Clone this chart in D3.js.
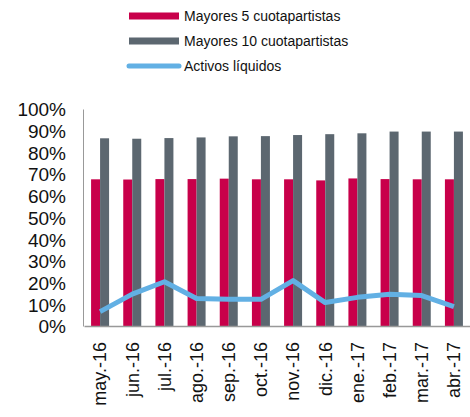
<!DOCTYPE html>
<html>
<head>
<meta charset="utf-8">
<script src="https://cdn.jsdelivr.net/npm/d3@7"></script>
<style>
  body { margin: 0; background: #fff; }
  text { font-family: "Liberation Sans", Arial, sans-serif; fill: #111; }
</style>
</head>
<body>
<div id="chart"></div>
<script>
const months = ["may.-16", "jun.-16", "jul.-16", "ago.-16", "sep.-16", "oct.-16",
                "nov.-16", "dic.-16", "ene.-17", "feb.-17", "mar.-17", "abr.-17"];
const top5 = [67.6, 67.5, 67.7, 67.7, 67.9, 67.6, 67.6, 67.1, 68.0, 67.7, 67.6, 67.6];
const top10 = [86.5, 86.3, 86.6, 86.9, 87.4, 87.5, 88.0, 88.4, 88.8, 89.6, 89.6, 89.6];
const liquidos = [6.6, 14.7, 20.4, 12.7, 12.3, 12.3, 20.9, 10.8, 13.2, 14.6, 14.0, 8.9];
const yTicks = [0, 10, 20, 30, 40, 50, 60, 70, 80, 90, 100];
const seriesNames = ["Mayores 5 cuotapartistas", "Mayores 10 cuotapartistas", "Activos líquidos"];

const w = 470, h = 417;
const plotLeft = 84, plotRight = 470, plotTop = 109, plotBottom = 326;
const red = "#c8004a", gray = "#5c6770", blue = "#62b0e4";

const svg = d3.select("#chart").append("svg")
  .attr("width", w)
  .attr("height", h);

const x = d3.scaleBand().domain(months).range([plotLeft, plotRight]);
const y = d3.scaleLinear().domain([0, 100]).range([plotBottom, plotTop]);

const barW = 9;

// bars
svg.selectAll("rect.top5")
  .data(months)
  .enter()
  .append("rect")
  .attr("class", "top5")
  .attr("x", d => x(d) + x.bandwidth() / 2 - barW)
  .attr("y", (d, i) => y(top5[i]))
  .attr("width", barW)
  .attr("height", (d, i) => y(0) - y(top5[i]))
  .attr("fill", red);

svg.selectAll("rect.top10")
  .data(months)
  .enter()
  .append("rect")
  .attr("class", "top10")
  .attr("x", d => x(d) + x.bandwidth() / 2)
  .attr("y", (d, i) => y(top10[i]))
  .attr("width", barW)
  .attr("height", (d, i) => y(0) - y(top10[i]))
  .attr("fill", gray);

// line
const line = d3.line()
  .x((d, i) => x(months[i]) + x.bandwidth() / 2)
  .y(d => y(d));

svg.append("path")
  .datum(liquidos)
  .attr("d", line)
  .attr("fill", "none")
  .attr("stroke", blue)
  .attr("stroke-width", 5)
  .attr("stroke-linejoin", "round");

// axes
const yAxis = d3.axisLeft(y)
  .tickValues(yTicks)
  .tickSize(0)
  .tickPadding(17)
  .tickFormat(d => d + "%");

const gy = svg.append("g")
  .attr("transform", `translate(${plotLeft - 1},0)`)
  .call(yAxis);
gy.select(".domain").attr("stroke", "#999").attr("stroke-width", 1);
gy.selectAll("text").style("font-size", "19px").attr("dy", "0.36em");

const xAxis = d3.axisBottom(x).tickSize(0).tickPadding(0);
const gx = svg.append("g")
  .attr("transform", `translate(0,${plotBottom})`)
  .call(xAxis);
gx.select(".domain").attr("stroke", "#999").attr("stroke-width", 1.5);
gx.selectAll("text")
  .style("font-size", "18px")
  .attr("text-anchor", "end")
  .attr("dy", "0.35em")
  .attr("transform", "translate(0,16) rotate(-90)")
  .attr("x", 0)
  .attr("y", 0);

// legend
const legendY = [16, 41, 66];
const legend = svg.append("g");
seriesNames.forEach((name, i) => {
  if (i < 2) {
    legend.append("rect")
      .attr("x", 129).attr("y", legendY[i] - 3.5)
      .attr("width", 50).attr("height", 7)
      .attr("fill", i === 0 ? red : gray);
  } else {
    legend.append("line")
      .attr("x1", 129).attr("x2", 179)
      .attr("y1", legendY[i]).attr("y2", legendY[i])
      .attr("stroke", blue).attr("stroke-width", 5)
      .attr("stroke-linecap", "round");
  }
  legend.append("text")
    .attr("x", 184).attr("y", legendY[i])
    .attr("dy", "0.35em")
    .style("font-size", "14px")
    .text(name);
});
</script>
</body>
</html>
